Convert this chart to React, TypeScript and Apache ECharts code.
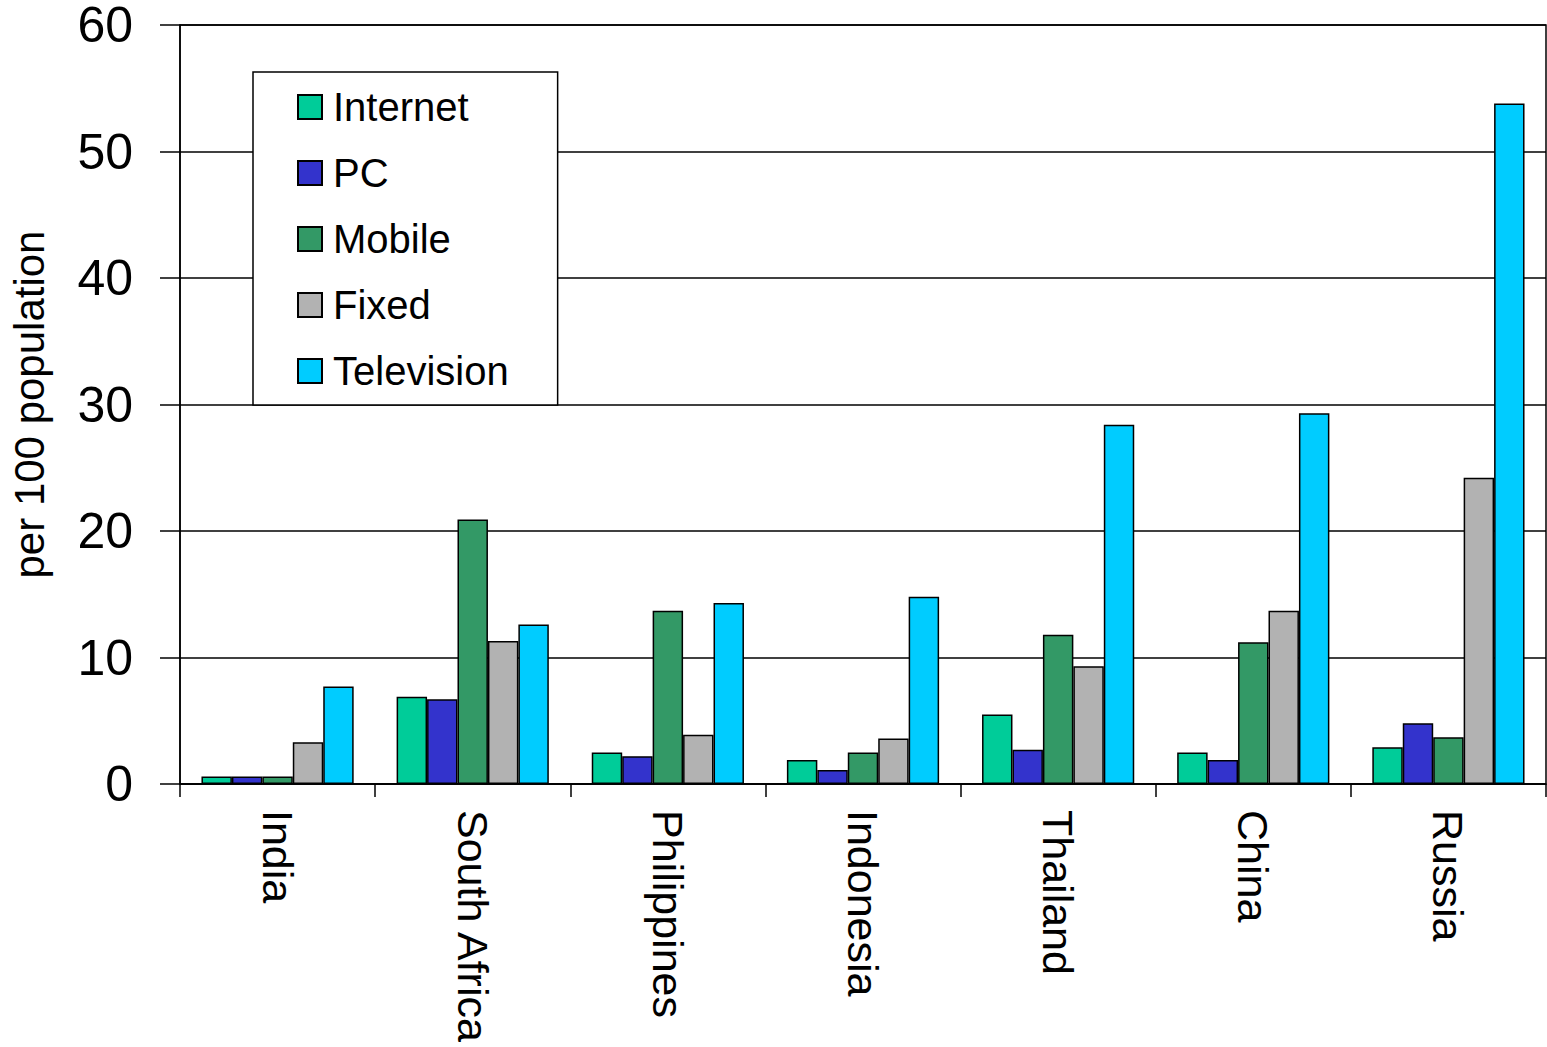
import React, { useEffect, useRef } from "react";
import * as echarts from "echarts";

const categories = ["India", "South Africa", "Philippines", "Indonesia", "Thailand", "China", "Russia"];
const seriesNames = ["Internet", "PC", "Mobile", "Fixed", "Television"];
const internet = [0.6, 6.9, 2.5, 1.9, 5.5, 2.5, 2.9];
const pc = [0.6, 6.7, 2.2, 1.1, 2.7, 1.9, 4.8];
const mobile = [0.6, 20.9, 13.7, 2.5, 11.8, 11.2, 3.7];
const fixed = [3.3, 11.3, 3.9, 3.6, 9.3, 13.7, 24.2];
const television = [7.7, 12.6, 14.3, 14.8, 28.4, 29.3, 53.8];
const colors = ["#00CC99", "#3333CC", "#339966", "#B2B2B2", "#00CCFF"];
const yTicks = { min: 0, max: 60, interval: 10 };

const FONT = "'Liberation Sans', Arial, Helvetica, sans-serif";

export default function App() {
  const ref = useRef<HTMLDivElement>(null);
  useEffect(() => {
    if (!ref.current) return;
    const chart = echarts.init(ref.current, undefined, { renderer: "svg" });
    const values = [internet, pc, mobile, fixed, television];
    chart.setOption({
      animation: false,
      backgroundColor: "#ffffff",
      textStyle: { fontFamily: FONT, color: "#000" },
      grid: {
        left: 180,
        right: 1,
        top: 25,
        bottom: 263,
        containLabel: false,
        outerBoundsMode: "none",
        show: true,
        borderColor: "#000",
        borderWidth: 1.5,
        backgroundColor: "transparent",
      },
      legend: {
        orient: "vertical",
        left: 253,
        top: 72,
        data: seriesNames,
        itemWidth: 24,
        itemHeight: 24,
        itemGap: 26,
        padding: [15, 49, 14, 44],
        backgroundColor: "#ffffff",
        borderColor: "#000",
        borderWidth: 1.5,
        borderRadius: 0,
        icon: "rect",
        textStyle: {
          fontFamily: FONT,
          fontSize: 40,
          lineHeight: 40,
          color: "#000",
          padding: [0, 0, 0, 6],
        },
      },
      xAxis: {
        type: "category",
        data: categories,
        axisLine: { lineStyle: { color: "#000", width: 1.5 } },
        axisTick: { show: true, length: 13, lineStyle: { color: "#000", width: 1.5 } },
        axisLabel: {
          rotate: -90,
          margin: 26,
          fontSize: 43,
          lineHeight: 43,
          fontFamily: FONT,
          color: "#000",
          interval: 0,
        },
        splitLine: { show: false },
      },
      yAxis: {
        type: "value",
        min: yTicks.min,
        max: yTicks.max,
        interval: yTicks.interval,
        name: "per 100 population",
        nameLocation: "middle",
        nameGap: 130,
        nameRotate: 90,
        nameTextStyle: { fontSize: 42, fontFamily: FONT, color: "#000" },
        axisLine: { show: true, lineStyle: { color: "#000", width: 1.5 } },
        axisTick: { show: true, inside: false, length: 20, lineStyle: { color: "#000", width: 1.5 } },
        axisLabel: { margin: 47, fontSize: 50, lineHeight: 40, fontFamily: FONT, color: "#000" },
        splitLine: { show: true, lineStyle: { color: "#000", width: 1.5 } },
      },
      series: seriesNames.map((name, i) => ({
        name,
        type: "bar",
        data: values[i],
        barGap: "0%",
        barCategoryGap: "22%",
        itemStyle: { color: colors[i], borderColor: "#000", borderWidth: 1.5 },
      })),
    });
    return () => chart.dispose();
  }, []);
  return (
    <div
      ref={ref}
      style={{ position: "fixed", left: 0, top: 0, width: 1547, height: 1047, background: "#fff" }}
    />
  );
}
